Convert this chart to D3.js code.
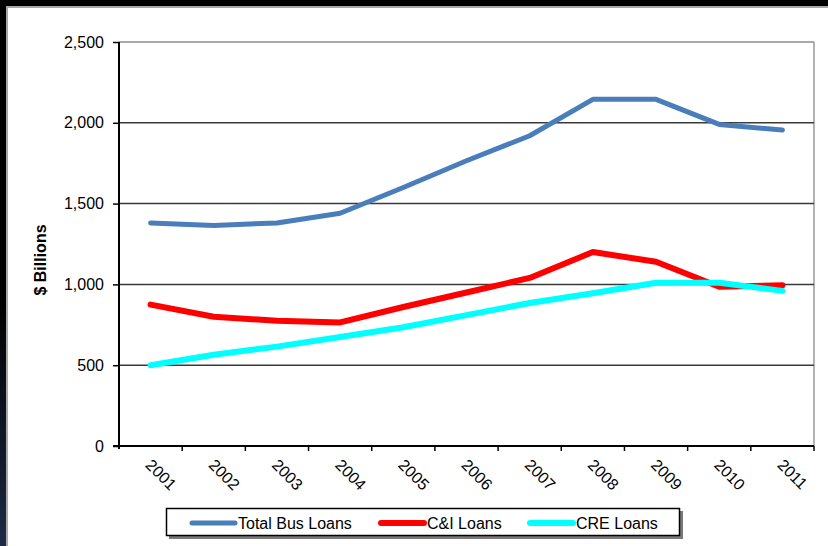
<!DOCTYPE html>
<html>
<head>
<meta charset="utf-8">
<script src="https://cdn.jsdelivr.net/npm/d3@7"></script>
<style>
  html, body { margin: 0; padding: 0; background: #000; }
  svg { display: block; font-family: "Liberation Sans", Arial, sans-serif; }
</style>
</head>
<body>
<svg id="chart" width="828" height="546"></svg>
<script>
// Business loan balances, $ billions
const years = ["2001", "2002", "2003", "2004", "2005", "2006", "2007", "2008", "2009", "2010", "2011"];
const totalBusLoans = [1380, 1365, 1380, 1440, 1600, 1765, 1920, 2145, 2145, 1990, 1955];
const ciLoans       = [875, 800, 775, 765, 860, 950, 1040, 1200, 1140, 985, 995];
const creLoans      = [500, 565, 615, 675, 735, 810, 885, 945, 1010, 1010, 960];
const yTicks = [0, 500, 1000, 1500, 2000, 2500];

const series = [
  { name: "Total Bus Loans", values: totalBusLoans, color: "#4a7ebb", width: 5 },
  { name: "C&I Loans",       values: ciLoans,       color: "#ff0000", width: 6 },
  { name: "CRE Loans",       values: creLoans,      color: "#00ffff", width: 6 }
];

const svg = d3.select("#chart");
const W = 828, H = 546;

// Slide frame: dark band on the top and left, fading to navy at the bottom
const defs = svg.append("defs");
const grad = defs.append("linearGradient").attr("id", "edge").attr("x1", 0).attr("y1", 0).attr("x2", 0).attr("y2", 1);
grad.append("stop").attr("offset", "0%").attr("stop-color", "#000");
grad.append("stop").attr("offset", "55%").attr("stop-color", "#000");
grad.append("stop").attr("offset", "100%").attr("stop-color", "#1d2b45");
svg.append("rect").attr("width", W).attr("height", H).attr("fill", "#000");
svg.append("rect").attr("x", 0).attr("y", 0).attr("width", 7).attr("height", H).attr("fill", "url(#edge)");
svg.append("rect").attr("x", 6).attr("y", 6).attr("width", W - 6).attr("height", H - 6).attr("fill", "#a8a8a8");
svg.append("rect").attr("x", 8).attr("y", 8).attr("width", W - 8).attr("height", H - 8).attr("fill", "#fff");

const plot = { left: 119, right: 814, top: 42, bottom: 446 };

const x = d3.scaleBand().domain(years).range([plot.left, plot.right]).padding(0);
const y = d3.scaleLinear().domain([0, 2500]).range([plot.bottom, plot.top]);

// Right border of plot area
svg.append("line")
  .attr("x1", plot.right).attr("x2", plot.right)
  .attr("y1", plot.top).attr("y2", plot.bottom)
  .attr("stroke", "#9a9a9a").attr("stroke-width", 1.5);

// Horizontal gridlines
svg.append("g")
  .selectAll("line")
  .data(yTicks.filter(d => d > 0))
  .join("line")
  .attr("x1", plot.left).attr("x2", plot.right)
  .attr("y1", d => y(d)).attr("y2", d => y(d))
  .attr("stroke", d => d === 2500 ? "#8c8c8c" : "#3a3a3a")
  .attr("stroke-width", 1.5);

// Y axis
const yAxis = d3.axisLeft(y).tickValues(yTicks).tickFormat(d3.format(",")).tickSize(6).tickPadding(9);
const gy = svg.append("g").attr("transform", `translate(${plot.left},0)`).call(yAxis);
gy.select(".domain").remove();
gy.selectAll(".tick line").attr("stroke", "#000").attr("stroke-width", 1.5);
gy.selectAll(".tick text").attr("font-size", 16).attr("fill", "#000")
  .attr("font-family", "Liberation Sans, Arial, sans-serif");
svg.append("line")
  .attr("x1", plot.left).attr("x2", plot.left)
  .attr("y1", plot.top).attr("y2", plot.bottom + 3)
  .attr("stroke", "#000").attr("stroke-width", 2);

// X axis: ticks between categories, labels rotated 45°
const boundaries = years.map(d => x(d)).concat([plot.right]).slice(1);
svg.append("g").selectAll("line")
  .data(boundaries)
  .join("line")
  .attr("x1", d => d).attr("x2", d => d)
  .attr("y1", plot.bottom).attr("y2", plot.bottom + 5)
  .attr("stroke", "#000").attr("stroke-width", 1.5);
svg.append("line")
  .attr("x1", plot.left - 6).attr("x2", plot.right)
  .attr("y1", plot.bottom).attr("y2", plot.bottom)
  .attr("stroke", "#000").attr("stroke-width", 2);

svg.append("g").selectAll("text")
  .data(years)
  .join("text")
  .attr("transform", d => `translate(${x(d) + x.bandwidth() / 2 - 6},${plot.bottom + 20}) rotate(45)`)
  .attr("font-size", 16)
  .attr("fill", "#000")
  .text(d => d);

// Y axis title
svg.append("text")
  .attr("transform", `translate(46,${(plot.top + plot.bottom) / 2 + 16}) rotate(-90)`)
  .attr("text-anchor", "middle")
  .attr("font-size", 16)
  .attr("font-weight", "bold")
  .text("$ Billions");

// Lines
const line = d3.line()
  .x((d, i) => x(years[i]) + x.bandwidth() / 2)
  .y(d => y(d));

svg.append("g").selectAll("path")
  .data(series)
  .join("path")
  .attr("d", d => line(d.values))
  .attr("fill", "none")
  .attr("stroke", d => d.color)
  .attr("stroke-width", d => d.width)
  .attr("stroke-linejoin", "round")
  .attr("stroke-linecap", "round");

// Legend
const legend = svg.append("g");
legend.append("rect")
  .attr("x", 169).attr("y", 511).attr("width", 514).attr("height", 28)
  .attr("fill", "#7a7a7a");
legend.append("rect")
  .attr("x", 166.5).attr("y", 508.5).attr("width", 513).attr("height", 27)
  .attr("fill", "#fff").attr("stroke", "#000").attr("stroke-width", 1.5);

const legendX = [192, 381, 530];
const items = legend.selectAll("g.item")
  .data(series)
  .join("g")
  .attr("class", "item")
  .attr("transform", (d, i) => `translate(${legendX[i]},523)`);
items.append("line")
  .attr("x1", 0).attr("x2", 43)
  .attr("y1", 0).attr("y2", 0)
  .attr("stroke", d => d.color)
  .attr("stroke-width", d => d.width)
  .attr("stroke-linecap", "round");
items.append("text")
  .attr("x", 46).attr("y", 6)
  .attr("font-size", 16)
  .attr("fill", "#000")
  .text(d => d.name);
</script>
</body>
</html>
